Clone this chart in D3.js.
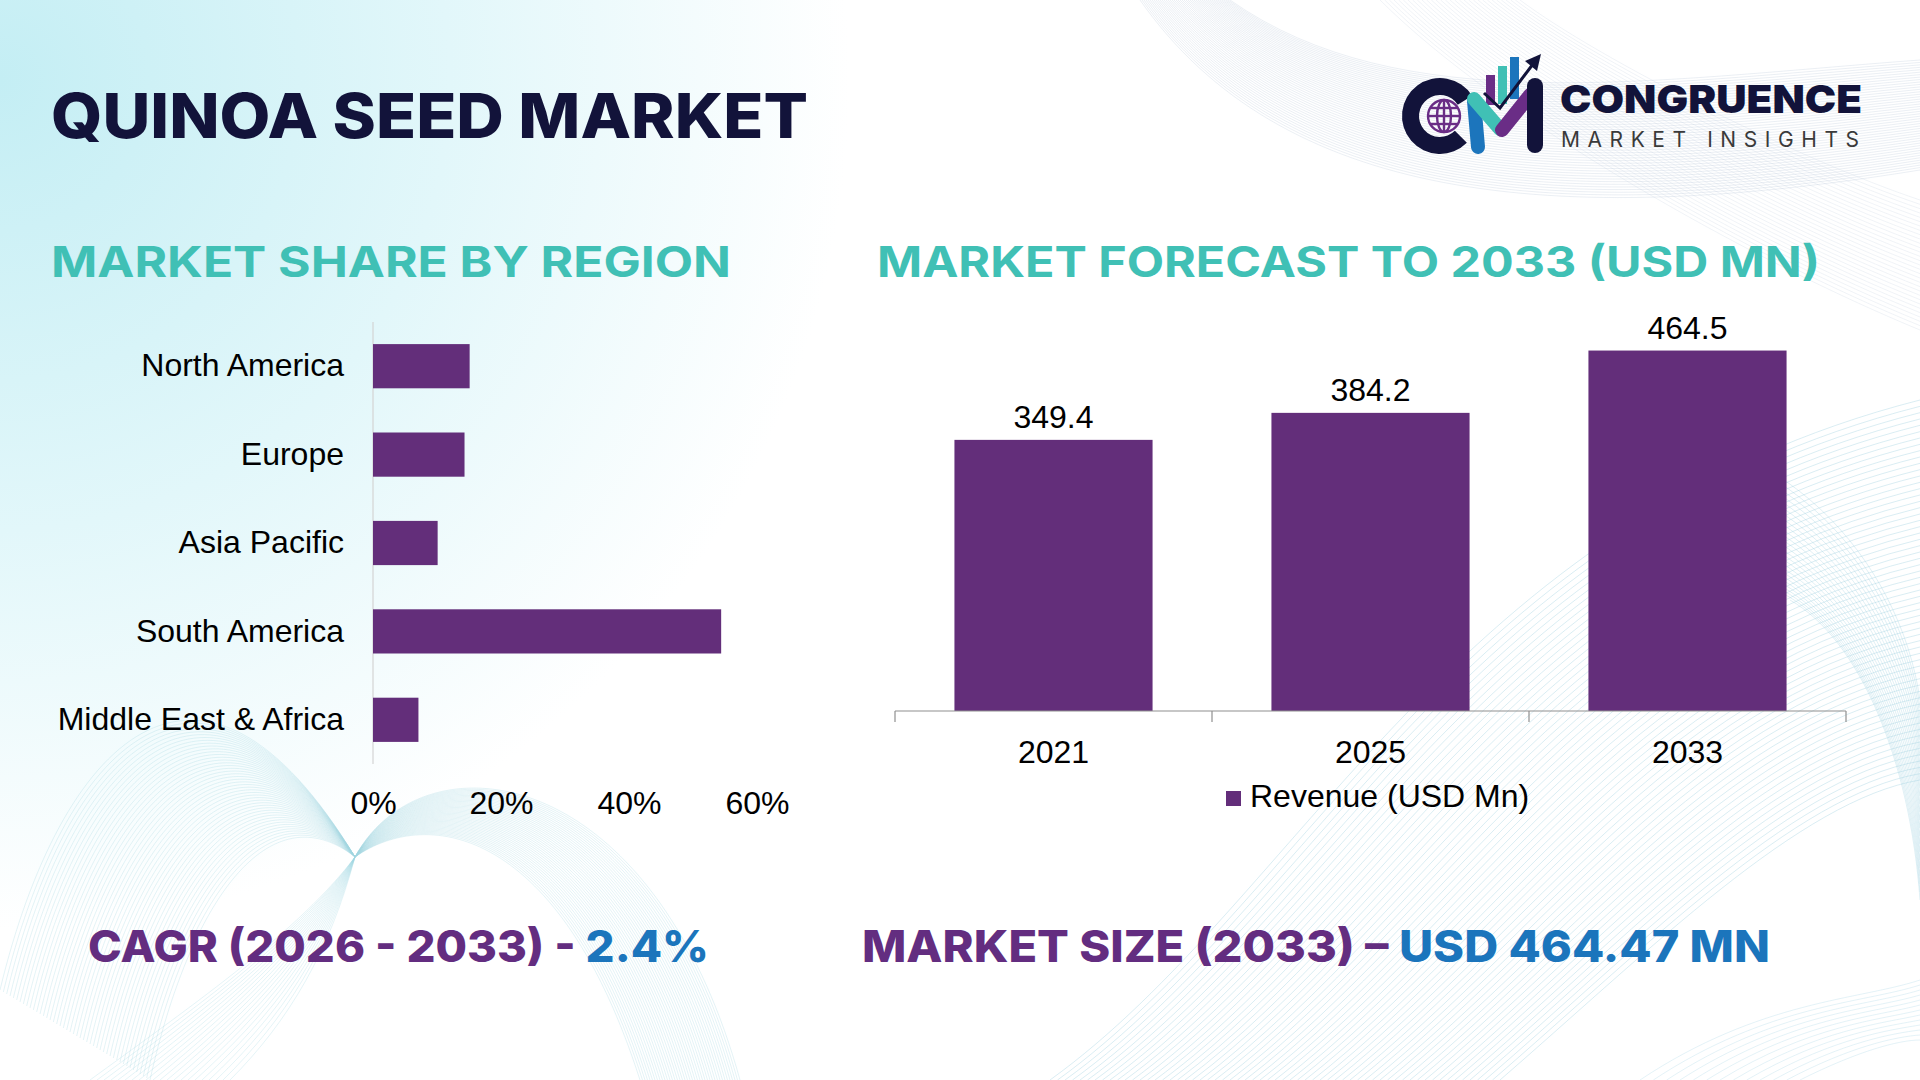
<!doctype html>
<html>
<head>
<meta charset="UTF-8" />
<script src="https://cdnjs.cloudflare.com/ajax/libs/d3/7.8.5/d3.min.js"></script>
<style>
  html, body { margin: 0; padding: 0; background: #fff; }
  svg { display: block; }
  .lbl { font-family: "Liberation Sans", Arial, sans-serif; font-size: 32px; fill: #000; }
  .head { font-family: Inter, "Open Sans", sans-serif; }
</style>
</head>
<body>
<svg id="chart" width="1920" height="1080"></svg>
<script>
// ---- data ----
const regions = ["North America", "Europe", "Asia Pacific", "South America", "Middle East & Africa"];
const regionShare = [15.1, 14.3, 10.1, 54.4, 7.1];
const shareTicks = [0, 20, 40, 60];
const years = ["2021", "2025", "2033"];
const revenue = [349.4, 384.2, 464.5];

const purple = "#632e7a";
const svg = d3.select("#chart");

// ---- background ----
const defs = svg.append("defs");
const rg = defs.append("radialGradient").attr("id", "bg")
  .attr("gradientUnits", "userSpaceOnUse")
  .attr("cx", 0).attr("cy", 80).attr("r", 1000);
rg.append("stop").attr("offset", 0).attr("stop-color", "#c4eef4");
rg.append("stop").attr("offset", 0.45).attr("stop-color", "#e2f7fa");
rg.append("stop").attr("offset", 0.85).attr("stop-color", "#ffffff");
svg.append("rect").attr("width", 1920).attr("height", 1080).attr("fill", "url(#bg)");

// decorative line bundles (interpolated between two bezier curves)
const deco = svg.append("g").attr("fill", "none");
function bundle(a, b, n, color, op) {
  const lerp = (p, q, t) => [p[0] + (q[0] - p[0]) * t, p[1] + (q[1] - p[1]) * t];
  for (let i = 0; i <= n; i++) {
    const t = i / n;
    const p = a.map((pt, k) => lerp(pt, b[k], t));
    deco.append("path")
      .attr("d", `M${p[0]}C${p[1]} ${p[2]} ${p[3]}`)
      .attr("stroke", color).attr("stroke-width", 0.9).attr("stroke-opacity", op);
  }
}
// top right
bundle([[1140, 0], [1280, 200], [1550, 230], [1920, 170]], [[1230, 0], [1400, 120], [1650, 80], [1920, 60]], 45, "#b4c4d8", 0.3);
bundle([[1380, 0], [1500, 120], [1750, 260], [1920, 330]], [[1520, 0], [1600, 60], [1800, 160], [1920, 200]], 30, "#b4c4d8", 0.22);
// bottom left ribbon + fan
bundle([[0, 990], [60, 740], [200, 600], [355, 857]], [[150, 1080], [190, 900], [270, 790], [355, 857]], 45, "#9fd6e1", 0.32);
bundle([[355, 857], [300, 930], [200, 1000], [90, 1080]], [[355, 857], [330, 950], [290, 1020], [230, 1080]], 20, "#9fd6e1", 0.3);
bundle([[355, 857], [430, 805], [560, 830], [640, 1080]], [[355, 857], [420, 735], [650, 755], [740, 1080]], 40, "#9fd6e1", 0.32);
// bottom right
bundle([[1050, 1080], [1300, 900], [1450, 520], [1920, 400]], [[1500, 1080], [1650, 950], [1800, 800], [1920, 780]], 60, "#9ccfe0", 0.42);
bundle([[1600, 430], [1780, 420], [1900, 560], [1920, 700]], [[1790, 600], [1860, 640], [1910, 760], [1920, 900]], 25, "#9ccfe0", 0.35);
bundle([[1640, 1080], [1760, 1000], [1860, 1000], [1920, 980]], [[1800, 1080], [1860, 1050], [1900, 1040], [1920, 1040]], 12, "#9ccfe0", 0.3);

// ---- headings ----
svg.append("text").attr("class", "head")
  .attr("x", 51).attr("y", 138)
  .attr("font-size", 62).attr("font-weight", 800).attr("fill", "#12133a")
  .attr("textLength", 757).attr("lengthAdjust", "spacingAndGlyphs")
  .text("QUINOA SEED MARKET");

svg.append("text").attr("class", "head")
  .attr("x", 51).attr("y", 277)
  .attr("font-size", 42).attr("font-weight", 700).attr("fill", "#40c0b5")
  .attr("textLength", 680).attr("lengthAdjust", "spacingAndGlyphs")
  .text("MARKET SHARE BY REGION");

svg.append("text").attr("class", "head")
  .attr("x", 877).attr("y", 277)
  .attr("font-size", 42).attr("font-weight", 700).attr("fill", "#40c0b5")
  .attr("textLength", 943).attr("lengthAdjust", "spacingAndGlyphs")
  .text("MARKET FORECAST TO 2033 (USD MN)");

// ---- left chart: market share by region ----
const xs = d3.scaleLinear().domain([0, 60]).range([373, 757]);
const ys = d3.scaleBand().domain(regions).range([322, 764]).paddingInner(0.5).paddingOuter(0.25);

svg.append("line")
  .attr("x1", xs(0)).attr("x2", xs(0))
  .attr("y1", ys.range()[0]).attr("y2", ys.range()[1])
  .attr("stroke", "#d4d4d4").attr("stroke-width", 1.2);

svg.append("g").selectAll("rect")
  .data(regions)
  .join("rect")
  .attr("x", xs(0))
  .attr("y", d => ys(d))
  .attr("width", (d, i) => xs(regionShare[i]) - xs(0))
  .attr("height", ys.bandwidth())
  .attr("fill", purple);

const yAxisL = svg.append("g")
  .attr("transform", `translate(${xs(0)},0)`)
  .call(d3.axisLeft(ys).tickSize(0).tickPadding(29));
yAxisL.select(".domain").remove();
yAxisL.selectAll("text").attr("class", "lbl");

const xAxisL = svg.append("g")
  .attr("transform", "translate(0,791)")
  .call(d3.axisBottom(xs).tickValues(shareTicks).tickFormat(d => d + "%").tickSize(0).tickPadding(0));
xAxisL.select(".domain").remove();
xAxisL.selectAll("text").attr("class", "lbl");

// ---- right chart: forecast ----
const xb = d3.scaleBand().domain(years).range([895, 1846]).paddingInner(0.375).paddingOuter(0.1875);
const yb = d3.scaleLinear().domain([0, 500]).range([711, 323]);

svg.append("g").selectAll("rect")
  .data(years)
  .join("rect")
  .attr("x", d => xb(d))
  .attr("y", (d, i) => yb(revenue[i]))
  .attr("width", xb.bandwidth())
  .attr("height", (d, i) => yb(0) - yb(revenue[i]))
  .attr("fill", purple);

svg.append("g").selectAll("text")
  .data(years)
  .join("text")
  .attr("class", "lbl")
  .attr("text-anchor", "middle")
  .attr("x", d => xb(d) + xb.bandwidth() / 2)
  .attr("y", (d, i) => yb(revenue[i]) - 12)
  .text((d, i) => revenue[i].toFixed(1));

// category axis with ticks at category boundaries
const gap = (xb.step() - xb.bandwidth()) / 2;
const bounds = d3.range(years.length + 1).map(i => xb(years[0]) - gap + i * xb.step());
const xAxisR = svg.append("g").attr("transform", `translate(0,${yb(0)})`);
xAxisR.append("line")
  .attr("x1", bounds[0]).attr("x2", bounds[bounds.length - 1])
  .attr("stroke", "#8f8f8f").attr("stroke-width", 1.2);
xAxisR.selectAll(".tk").data(bounds).join("line").attr("class", "tk")
  .attr("x1", d => d).attr("x2", d => d).attr("y1", 0).attr("y2", 11)
  .attr("stroke", "#8f8f8f").attr("stroke-width", 1.2);
const xAxisR2 = svg.append("g")
  .attr("transform", `translate(0,${yb(0) + 29})`)
  .call(d3.axisBottom(xb).tickSize(0).tickPadding(0));
xAxisR2.select(".domain").remove();
xAxisR2.selectAll("text").attr("class", "lbl");

// legend
const leg = svg.append("g").attr("transform", "translate(1226,791)");
leg.append("rect").attr("width", 15).attr("height", 15).attr("fill", purple);
leg.append("text").attr("class", "lbl").attr("x", 24).attr("y", 16).text("Revenue (USD Mn)");

// ---- bottom key figures ----
const cagr = svg.append("text").attr("class", "head")
  .attr("x", 88).attr("y", 962)
  .attr("font-size", 44).attr("font-weight", 800)
  .attr("textLength", 621).attr("lengthAdjust", "spacingAndGlyphs");
cagr.append("tspan").attr("fill", "#632d80").text("CAGR (2026 - 2033) - ");
cagr.append("tspan").attr("fill", "#1b75bc").text("2.4%");

const size = svg.append("text").attr("class", "head")
  .attr("x", 862).attr("y", 962)
  .attr("font-size", 44).attr("font-weight", 800)
  .attr("textLength", 908).attr("lengthAdjust", "spacingAndGlyphs");
size.append("tspan").attr("fill", "#632d80").text("MARKET SIZE (2033) \u2013 ");
size.append("tspan").attr("fill", "#1b75bc").text("USD 464.47 MN");

// ---- logo ----
const logo = svg.append("g");
const navy = "#12133a";
logo.append("path")
  .attr("transform", "translate(1440,116)")
  .attr("d", d3.arc().innerRadius(21).outerRadius(38).startAngle(Math.PI * 0.75).endAngle(Math.PI * 2.32)())
  .attr("fill", navy);
const globe = logo.append("g").attr("transform", "translate(1444,116)")
  .attr("fill", "none").attr("stroke", "#6a2d86").attr("stroke-width", 2.4);
globe.append("circle").attr("r", 16);
globe.append("ellipse").attr("rx", 7).attr("ry", 16);
globe.append("line").attr("y1", -16).attr("y2", 16);
globe.append("line").attr("x1", -16).attr("x2", 16);
globe.append("line").attr("x1", -14).attr("x2", 14).attr("y1", -8).attr("y2", -8);
globe.append("line").attr("x1", -14).attr("x2", 14).attr("y1", 8).attr("y2", 8);
// small bars
logo.append("rect").attr("x", 1486).attr("y", 75).attr("width", 9).attr("height", 30).attr("fill", "#6a2d86");
logo.append("rect").attr("x", 1498).attr("y", 66).attr("width", 9).attr("height", 38).attr("fill", "#40c0b5");
logo.append("rect").attr("x", 1510).attr("y", 57).attr("width", 9).attr("height", 42).attr("fill", "#1c75bc");
// M strokes
logo.append("line").attr("x1", 1474).attr("y1", 101).attr("x2", 1478).attr("y2", 147)
  .attr("stroke", "#1c75bc").attr("stroke-width", 14).attr("stroke-linecap", "round");
logo.append("line").attr("x1", 1474).attr("y1", 99).attr("x2", 1500).attr("y2", 129)
  .attr("stroke", "#40c0b5").attr("stroke-width", 14).attr("stroke-linecap", "round");
logo.append("line").attr("x1", 1502).attr("y1", 130).attr("x2", 1530).attr("y2", 95)
  .attr("stroke", "#6a2d86").attr("stroke-width", 14).attr("stroke-linecap", "round");
logo.append("rect").attr("x", 1527).attr("y", 78).attr("width", 16).attr("height", 75).attr("rx", 8).attr("fill", navy);
logo.append("polyline").attr("points", "1484,93 1500,108 1533,64")
  .attr("fill", "none").attr("stroke", navy).attr("stroke-width", 3);
logo.append("path").attr("d", "M1541,54 L1525,61 L1537,71 Z").attr("fill", navy);

logo.append("text").attr("class", "head")
  .attr("x", 1560).attr("y", 113)
  .attr("font-size", 39).attr("font-weight", 900).attr("fill", navy)
  .attr("textLength", 302).attr("lengthAdjust", "spacingAndGlyphs")
  .text("CONGRUENCE");
logo.append("text")
  .attr("x", 1561).attr("y", 147)
  .attr("font-family", "Inter, sans-serif").attr("font-size", 21).attr("font-weight", 400).attr("fill", "#3a3a3a")
  .attr("textLength", 298).attr("lengthAdjust", "spacing")
  .text("MARKET INSIGHTS");
</script>
</body>
</html>
